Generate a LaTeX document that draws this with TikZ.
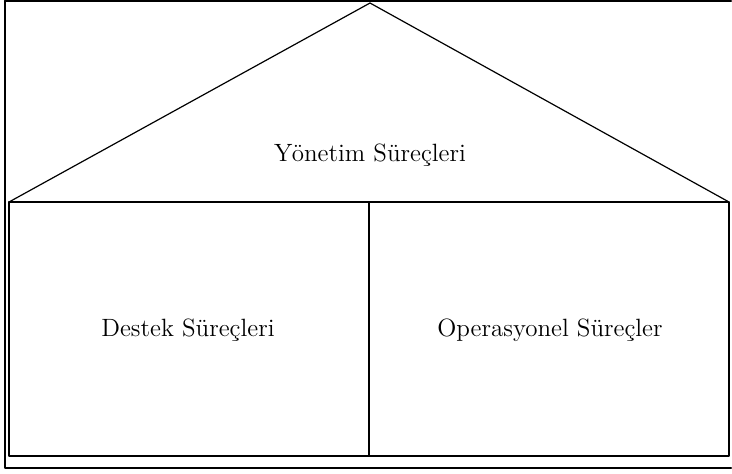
\documentclass[tikz,border=0pt]{standalone}
\usepackage{tikz}

\begin{document}
\begin{tikzpicture}[line cap=round,line join=round,x=0.5pt,y=-0.5pt]
\useasboundingbox (0,0) rectangle (732,473);
\tikzset{label/.style={font=\fontsize{12.5}{14}\selectfont},
  wall/.style={line width=0.6pt}}
% outer frame
\draw[line width=1.1pt] (5,1)--(5,468)--(731,468);
\draw[line width=1.1pt] (5,1)--(731,1);
% house
\coordinate (top) at (370,3);
\coordinate (bl) at (9,456);
\coordinate (br) at (729,456);
\coordinate (ml) at (9,202);
\coordinate (mr) at (729,202);
\draw[wall] (ml)--(top)--(mr);
\draw[wall] (ml) rectangle (br);
\draw[wall] (369,202)--(369,456);
\node[label] (yonetim) at (370,155) {Yönetim Süreçleri};
\node[label] (destek) at (188,330) {Destek Süreçleri};
\node[label] (operasyonel) at (550,330) {Operasyonel Süreçler};
\end{tikzpicture}
\end{document}
